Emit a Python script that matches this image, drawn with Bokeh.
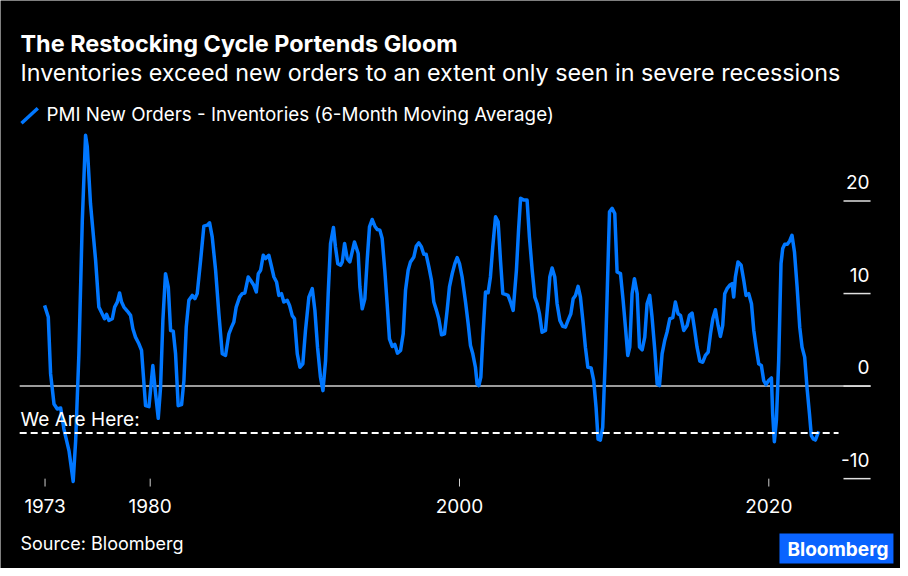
from bokeh.plotting import figure
from bokeh.models import Label, Arrow
from bokeh.embed import file_html
from bokeh.resources import INLINE

# ---- data (decimal year, PMI new orders minus inventories, 6m MA) ----
years = [
    1973.17, 1973.41, 1973.56, 1973.78, 1973.99, 1974.21, 1974.42, 1974.75, 1975.02, 1975.18,
    1975.39, 1975.61, 1975.82, 1975.93, 1976.14, 1976.47, 1976.68, 1976.90, 1977.05, 1977.18,
    1977.33, 1977.55, 1977.70, 1977.87, 1978.02, 1978.15, 1978.30, 1978.52, 1978.73, 1978.88,
    1979.05, 1979.27, 1979.44, 1979.55, 1979.70, 1979.92, 1980.17, 1980.35, 1980.52, 1980.67,
    1980.82, 1980.99, 1981.17, 1981.32, 1981.49, 1981.64, 1981.81, 1982.03, 1982.18, 1982.33,
    1982.50, 1982.72, 1982.89, 1983.04, 1983.26, 1983.47, 1983.69, 1983.84, 1984.01, 1984.23,
    1984.44, 1984.66, 1984.87, 1985.09, 1985.26, 1985.41, 1985.56, 1985.78, 1985.95, 1986.12,
    1986.34, 1986.49, 1986.70, 1986.86, 1986.99, 1987.14, 1987.31, 1987.46, 1987.67, 1987.85,
    1988.00, 1988.17, 1988.32, 1988.49, 1988.64, 1988.86, 1989.01, 1989.18, 1989.33, 1989.51,
    1989.68, 1989.87, 1990.04, 1990.26, 1990.48, 1990.65, 1990.82, 1991.01, 1991.17, 1991.34,
    1991.51, 1991.66, 1991.85, 1991.98, 1992.13, 1992.31, 1992.42, 1992.57, 1992.74, 1992.91,
    1993.06, 1993.21, 1993.45, 1993.56, 1993.71, 1993.88, 1994.03, 1994.18, 1994.35, 1994.53,
    1994.68, 1994.85, 1995.00, 1995.17, 1995.32, 1995.47, 1995.65, 1995.82, 1995.99, 1996.19,
    1996.36, 1996.51, 1996.68, 1996.83, 1997.05, 1997.20, 1997.37, 1997.54, 1997.69, 1997.84,
    1998.02, 1998.19, 1998.34, 1998.51, 1998.66, 1998.84, 1999.03, 1999.20, 1999.35, 1999.53,
    1999.70, 1999.85, 2000.00, 2000.17, 2000.39, 2000.56, 2000.71, 2000.86, 2001.03, 2001.14,
    2001.25, 2001.38, 2001.51, 2001.68, 2001.85, 2002.00, 2002.15, 2002.33, 2002.50, 2002.65,
    2002.80, 2002.97, 2003.14, 2003.30, 2003.47, 2003.68, 2003.82, 2003.95, 2004.16, 2004.37,
    2004.52, 2004.70, 2004.87, 2005.02, 2005.17, 2005.34, 2005.56, 2005.73, 2005.84, 2005.99,
    2006.16, 2006.31, 2006.49, 2006.68, 2006.85, 2007.02, 2007.20, 2007.35, 2007.50, 2007.67,
    2007.82, 2008.00, 2008.14, 2008.30, 2008.51, 2008.68, 2008.83, 2008.96, 2009.11, 2009.26,
    2009.44, 2009.61, 2009.70, 2009.87, 2010.04, 2010.19, 2010.41, 2010.58, 2010.73, 2010.88,
    2011.01, 2011.16, 2011.31, 2011.49, 2011.64, 2011.81, 2011.98, 2012.13, 2012.30, 2012.45,
    2012.63, 2012.78, 2012.93, 2013.10, 2013.27, 2013.42, 2013.60, 2013.79, 2013.96, 2014.13,
    2014.29, 2014.50, 2014.72, 2014.87, 2015.04, 2015.21, 2015.36, 2015.54, 2015.73, 2015.90,
    2016.08, 2016.23, 2016.38, 2016.55, 2016.72, 2016.87, 2017.02, 2017.15, 2017.30, 2017.47,
    2017.63, 2017.73, 2017.84, 2018.01, 2018.21, 2018.38, 2018.53, 2018.70, 2018.88, 2019.03,
    2019.18, 2019.35, 2019.52, 2019.67, 2019.82, 2019.99, 2020.17, 2020.25, 2020.36, 2020.49,
    2020.64, 2020.79, 2020.90, 2021.03, 2021.20, 2021.35, 2021.50, 2021.66, 2021.83, 2022.00,
    2022.15, 2022.32, 2022.47, 2022.63, 2022.75, 2022.88, 2023.01, 2023.12, 2023.23,
]
values = [
    8.72, 7.46, 1.32, -1.93, -2.47, -2.36, -4.64, -6.99, -10.3, -5.90,
    3.49, 17.93, 27.1, 25.9, 19.70, 13.60, 8.54, 7.80, 7.28, 7.75,
    7.10, 7.28, 8.54, 9.08, 10.06, 9.08, 8.54, 8.11, 7.64, 6.20,
    5.29, 4.57, 3.85, 1.32, -2.11, -2.22, 2.22, -0.85, -3.48, -0.13,
    7.10, 12.15, 10.70, 6.00, 5.94, 3.49, -2.11, -2.00, 0.60, 6.37,
    9.27, 9.80, 9.44, 9.99, 13.60, 17.28, 17.39, 17.64, 16.12, 12.51,
    7.82, 3.49, 3.31, 5.65, 6.37, 6.92, 8.54, 9.62, 9.99, 10.06,
    11.79, 11.43, 10.89, 10.17, 12.15, 12.51, 14.14, 13.78, 14.14, 12.87,
    11.79, 11.25, 9.80, 9.99, 9.08, 9.27, 8.72, 7.64, 7.28, 3.49,
    2.04, 2.40, 6.00, 9.62, 10.53, 8.18, 4.21, 0.96, -0.49, 2.76,
    9.99, 15.40, 17.13, 15.04, 13.23, 13.06, 13.42, 15.40, 13.78, 13.42,
    14.50, 15.58, 14.32, 10.71, 8.36, 9.44, 13.60, 17.21, 18.00, 17.28,
    16.92, 16.85, 15.94, 12.51, 8.90, 5.11, 4.28, 4.50, 3.56, 3.85,
    5.65, 10.35, 12.51, 13.42, 13.96, 15.11, 15.48, 15.04, 14.25, 14.25,
    12.87, 11.43, 9.08, 8.18, 7.28, 5.54, 5.65, 8.18, 10.71, 12.15,
    13.23, 13.88, 13.23, 11.79, 9.08, 6.73, 4.39, 3.49, 2.04, 0.23,
    0.05, 0.96, 5.29, 10.17, 10.09, 11.79, 15.04, 18.29, 17.75, 13.60,
    9.99, 9.91, 9.80, 9.08, 8.18, 12.50, 16.90, 20.30, 20.10, 20.10,
    16.12, 12.51, 9.62, 8.90, 7.82, 5.83, 6.01, 9.27, 11.79, 12.77,
    11.79, 8.90, 7.10, 6.45, 6.37, 7.10, 7.82, 9.44, 9.80, 10.78,
    9.62, 6.73, 4.21, 2.04, 1.97, 0.60, -2.29, -5.72, -5.83, -4.46,
    3.49, 13.60, 18.83, 19.20, 18.65, 12.33, 12.15, 9.27, 6.37, 3.31,
    4.21, 9.99, 11.61, 9.99, 4.21, 3.92, 5.29, 8.90, 9.80, 7.46,
    3.85, 0.23, 0.05, 3.49, 4.93, 5.83, 7.28, 7.39, 9.08, 7.82,
    7.64, 6.01, 6.55, 7.64, 7.89, 6.01, 4.21, 2.69, 2.58, 3.31,
    3.67, 5.65, 7.28, 8.25, 6.55, 5.36, 6.55, 9.99, 10.53, 10.89,
    11.07, 9.62, 11.79, 13.42, 13.06, 11.43, 9.80, 9.99, 8.90, 6.01,
    4.21, 2.40, 2.22, 0.60, 0.16, 0.60, 0.88, -3.00, -6.00, -3.73,
    2.76, 13.24, 14.86, 15.33, 15.33, 15.69, 16.30, 14.50, 10.71, 6.37,
    4.21, 3.13, -0.13, -3.00, -5.36, -5.72, -5.83, -5.36, -4.89,
]

x_ticks = [1973.2, 1980, 2000, 2020]
x_tick_labels = ["1973", "1980", "2000", "2020"]
y_ticks = [20, 10, 0, -10]
y_tick_labels = ["20", "10", "0", "-10"]
we_are_here_level = -5.07

# ---- layout constants (data-space extents of the drawing area) ----
W, H = 900, 568
x_start, x_end = 1970.32, 2028.516        # whole canvas
y_start, y_end = -19.708, 41.664
plot_x0, plot_x1 = 1971.56, 2026.58        # visible plot extent (zero line)
dash_x1 = 2024.51
ytick_x0 = 2024.83
axis_y, xtick_top = -10.85, -10.0
logo_left, logo_right, logo_top, logo_bottom = 2020.69, 2028.06, -15.93, -19.17

FONT = "Inter"
BLUE = "#0077ff"
LOGO_BLUE = "#0a64ff"
GRAY = "#cfcfcf"

p = figure(width=W, height=H, output_backend="svg", toolbar_location=None,
           x_range=(x_start, x_end), y_range=(y_start, y_end),
           x_axis_location=None, y_axis_location=None, title=None,
           min_border=0, background_fill_color="black", border_fill_color="black",
           outline_line_color=None)
p.grid.visible = False

# zero line
p.segment(x0=[plot_x0], y0=[0], x1=[plot_x1], y1=[0], line_color=GRAY, line_width=1.5)

# main series
p.line(years, values, line_color=BLUE, line_width=3.5, line_join="round")

# "We Are Here" dashed line
p.segment(x0=[plot_x0], y0=[we_are_here_level], x1=[dash_x1], y1=[we_are_here_level],
          line_color="white", line_width=2, line_dash="7 4")
p.add_layout(Label(x=20, x_units="screen", y=we_are_here_level, y_units="data", y_offset=14,
                   text="We Are Here:", text_color="white", text_font=FONT,
                   text_font_size="19px", text_baseline="alphabetic"))

# y axis: short horizontal lines with labels above them
p.segment(x0=[ytick_x0] * len(y_ticks), y0=y_ticks, x1=[plot_x1] * len(y_ticks), y1=y_ticks,
          line_color="#e0e0e0", line_width=1.5)
for t, lab in zip(y_ticks, y_tick_labels):
    p.add_layout(Label(x=869, x_units="screen", y=t, y_units="data", y_offset=19,
                       text=lab, text_color="white", text_font=FONT,
                       text_font_size="19px", text_align="right",
                       text_baseline="alphabetic"))

# x axis: small vertical ticks with labels below
p.segment(x0=x_ticks, y0=[axis_y] * len(x_ticks), x1=x_ticks, y1=[xtick_top] * len(x_ticks),
          line_color=GRAY, line_width=1)
for t, lab in zip(x_ticks, x_tick_labels):
    p.add_layout(Label(x=t, y=axis_y, x_units="data", y_units="data", y_offset=-19.7,
                       text=lab, text_color="white", text_font=FONT,
                       text_font_size="19px", text_align="center",
                       text_baseline="alphabetic"))

# titles
p.add_layout(Label(x=20, y=525, x_units="screen", y_units="screen",
                   text="The Restocking Cycle Portends Gloom", text_color="white",
                   text_font=FONT, text_font_size="23.4px", text_font_style="bold",
                   text_baseline="alphabetic"))
p.add_layout(Label(x=20, y=496.5, x_units="screen", y_units="screen",
                   text="Inventories exceed new orders to an extent only seen in severe recessions",
                   text_color="white", text_font=FONT, text_font_size="23.3px",
                   text_baseline="alphabetic"))

# legend
p.add_layout(Arrow(end=None, x_start=21, y_start=445.3, x_end=37.3, y_end=460.3,
                   start_units="screen", end_units="screen",
                   line_color=BLUE, line_width=3.5))
p.add_layout(Label(x=46, y=454.3, x_units="screen", y_units="screen",
                   text="PMI New Orders - Inventories (6-Month Moving Average)",
                   text_color="white", text_font=FONT, text_font_size="18.8px",
                   text_baseline="alphabetic"))

# source & logo
p.add_layout(Label(x=20, y=24.7, x_units="screen", y_units="screen",
                   text="Source: Bloomberg", text_color="white", text_font=FONT,
                   text_font_size="18px", text_baseline="alphabetic"))
p.quad(left=[logo_left], right=[logo_right], top=[logo_top], bottom=[logo_bottom],
       fill_color=LOGO_BLUE, line_color=None)
p.add_layout(Label(x=787, y=19, x_units="screen", y_units="screen",
                   text="Bloomberg", text_color="white", text_font=FONT,
                   text_font_size="19px", text_font_style="bold",
                   text_baseline="alphabetic"))

open("out.html", "w").write(file_html(p, INLINE))
